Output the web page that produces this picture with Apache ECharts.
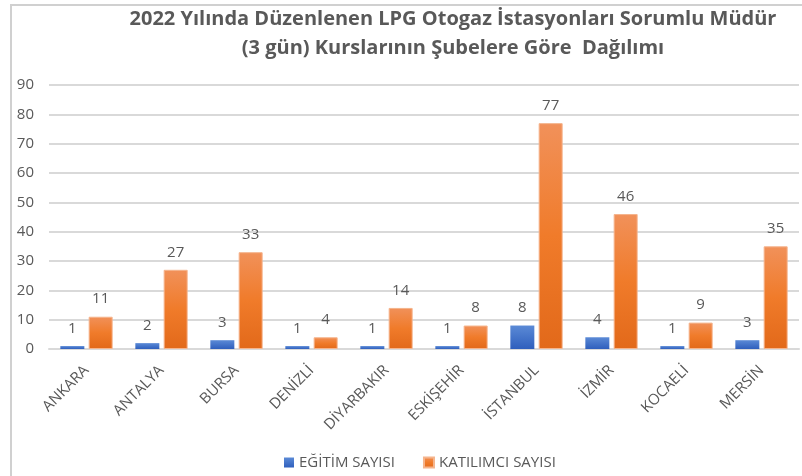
<!DOCTYPE html>
<html>
<head>
<meta charset="utf-8">
<script src="https://cdn.jsdelivr.net/npm/echarts@6/dist/echarts.min.js"></script>
<style>
  html, body { margin: 0; padding: 0; background: #fff; }
  #chart { width: 802px; height: 476px; }
</style>
</head>
<body>
<div id="chart"></div>
<script>
const FONT = "'Open Sans', 'Noto Sans', sans-serif"
const TEXT = '#595959'

const titleLines = [
  '2022 Yılında Düzenlenen LPG Otogaz İstasyonları Sorumlu Müdür',
  '(3 gün) Kurslarının Şubelere Göre  Dağılımı',
]
const branches = ['ANKARA', 'ANTALYA', 'BURSA', 'DENİZLİ', 'DİYARBAKIR', 'ESKİŞEHİR', 'İSTANBUL', 'İZMİR', 'KOCAELİ', 'MERSİN']
const courseCounts = [1, 2, 3, 1, 1, 1, 8, 4, 1, 3]
const participantCounts = [11, 27, 33, 4, 14, 8, 77, 46, 9, 35]
const seriesNames = ['EĞİTİM SAYISI', 'KATILIMCI SAYISI']

const blueFill = new echarts.graphic.LinearGradient(0, 0, 0, 1, [
  { offset: 0, color: '#5b8ad6' },
  { offset: 1, color: '#2f5fbd' },
])
const orangeFill = new echarts.graphic.LinearGradient(0, 0, 0, 1, [
  { offset: 0, color: '#f1915a' },
  { offset: 0.5, color: '#f07b2a' },
  { offset: 1, color: '#e2691a' },
])

const chart = echarts.init(document.getElementById('chart'))

const barLabel = {
  show: true,
  position: 'top',
  distance: 10,
  fontFamily: FONT,
  fontSize: 15,
  color: TEXT,
}

chart.setOption({
  animation: false,
  title: {
    text: titleLines.join('\n'),
    left: 448,
    top: 0,
    textAlign: 'center',
    textStyle: {
      fontFamily: FONT,
      fontWeight: 'bold',
      fontSize: 20,
      lineHeight: 29,
      color: TEXT,
    },
  },
  legend: {
    data: seriesNames,
    bottom: 1,
    left: 279,
    itemWidth: 10,
    itemHeight: 10,
    itemGap: 28,
    icon: 'rect',
    textStyle: { fontFamily: FONT, fontSize: 15, color: TEXT },
  },
  grid: { left: 49, right: 3, top: 85, bottom: 127 },
  xAxis: {
    type: 'category',
    data: branches,
    axisTick: { show: false },
    axisLine: { lineStyle: { color: '#d9d9d9', width: 2 } },
    axisLabel: {
      rotate: 45,
      interval: 0,
      margin: 19,
      fontFamily: FONT,
      fontSize: 15,
      color: TEXT,
    },
  },
  yAxis: {
    type: 'value',
    min: 0,
    max: 90,
    interval: 10,
    axisLine: { show: false },
    axisTick: { show: false },
    axisLabel: { margin: 15, fontFamily: FONT, fontSize: 15, color: TEXT },
    splitLine: { lineStyle: { color: '#d9d9d9', width: 2 } },
  },
  series: [
    {
      name: seriesNames[0],
      type: 'bar',
      data: courseCounts,
      barWidth: 24,
      barGap: '18%',
      itemStyle: { color: blueFill },
      label: barLabel,
    },
    {
      name: seriesNames[1],
      type: 'bar',
      data: participantCounts,
      barWidth: 24,
      itemStyle: { color: orangeFill, borderColor: '#f5b48c', borderWidth: 1 },
      label: barLabel,
    },
  ],
  graphic: [
    { type: 'line', shape: { x1: 10, y1: 5, x2: 802, y2: 5 }, style: { stroke: '#d0d0d0', lineWidth: 2 } },
    { type: 'line', shape: { x1: 11, y1: 5, x2: 11, y2: 476 }, style: { stroke: '#d0d0d0', lineWidth: 2 } },
  ],
})

window.addEventListener('resize', () => chart.resize())
</script>
</body>
</html>
